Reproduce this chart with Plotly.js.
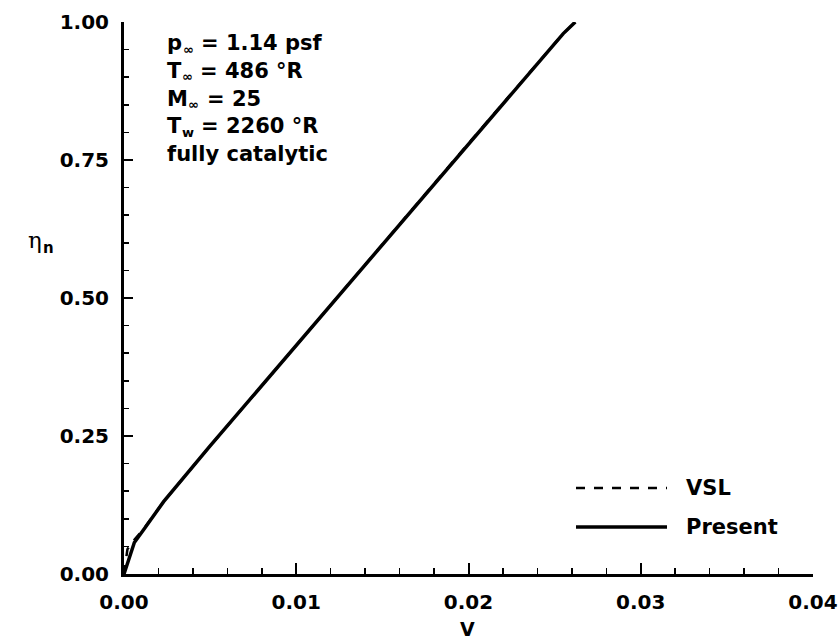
<!DOCTYPE html>
<html>
<head>
<meta charset="utf-8">
<script src="https://cdn.plot.ly/plotly-3.0.1.min.js"></script>
<style>html,body{margin:0;padding:0;background:#fff;}</style>
</head>
<body>
<div id="chart" style="width:838px;height:644px;"></div>
<script>
// Data
const presentV   = [0, 0.0003, 0.0006, 0.0012, 0.0023, 0.005, 0.010, 0.015, 0.020, 0.0255, 0.0262];
const presentEta = [0, 0.030, 0.057, 0.083, 0.131, 0.232, 0.414, 0.597, 0.780, 0.979, 1.000];
const vslV   = [0, 0.0002, 0.0006, 0.0012, 0.0023, 0.005, 0.010, 0.015, 0.020, 0.0255, 0.0262];
const vslEta = [0, 0.045, 0.062, 0.084, 0.131, 0.232, 0.414, 0.597, 0.780, 0.979, 1.000];
const xTickVals = [0, 0.01, 0.02, 0.03, 0.04];
const xTickText = ["0.00", "0.01", "0.02", "0.03", "0.04"];
const yTickVals = [0, 0.25, 0.5, 0.75, 1.0];
const yTickText = ["0.00", "0.25", "0.50", "0.75", "1.00"];
const infoMain = ["p", "T", "M", "T", "fully catalytic"];
const infoSub  = ["∞", "∞", "∞", "w", ""];
const infoRest = ["= 1.14 psf", "= 486 °R", "= 25", "= 2260 °R", ""];
const legendNames = ["VSL", "Present"];
const yTitleMain = "η", yTitleSub = "n";
const xTitle = "V";

const FONT = "DejaVu Sans";
const FONTS = "DejaVu Sans, Arial, sans-serif";
const MAIN_SIZE = 21, SUB_SIZE = 13;

// plot-area geometry (pixels) -> paper coordinates
const L = 124, R = 813, T = 22, B = 574;
const px = x => (x - L) / (R - L);
const py = y => (B - y) / (B - T);

const ctx = document.createElement("canvas").getContext("2d");
function textW(s, size) { ctx.font = "bold " + size + "px '" + FONT + "'"; return ctx.measureText(s).width; }

const traces = [
  {x: vslV, y: vslEta, mode: "lines", name: legendNames[0],
   line: {color: "#000", width: 2.5, dash: "dash"}, showlegend: false},
  {x: presentV, y: presentEta, mode: "lines", name: legendNames[1],
   line: {color: "#000", width: 3.5}, showlegend: false}
];

const annotations = [];
function addText(text, xpx, ypx, size, anchor, family) {
  annotations.push({xref: "paper", yref: "paper", x: px(xpx), y: py(ypx),
    xanchor: anchor || "left", yanchor: "middle", showarrow: false,
    text: text, font: {family: family || FONTS, size: size, color: "#000"}});
}

// info block
const x0 = 165;
infoMain.forEach((m, i) => {
  const yc = 43 + i * 27.8;
  addText("<b>" + m + "</b>", x0, yc, MAIN_SIZE);
  if (infoSub[i]) {
    const xs = x0 + textW(m, MAIN_SIZE) + 0.5;
    addText("<b>" + infoSub[i] + "</b>", xs, yc + 6, SUB_SIZE);
    const xr = xs + textW(infoSub[i], SUB_SIZE) + textW(" ", MAIN_SIZE);
    addText("<b>" + infoRest[i] + "</b>", xr, yc, MAIN_SIZE);
  }
});

// y title (horizontal, eta with subscript n)
addText(yTitleMain, 26, 240, 23, "left", "DejaVu Serif, serif");
addText("<b>" + yTitleSub + "</b>", 41, 248, 15, "left", FONTS);
// x title
addText("<b>" + xTitle + "</b>", 467, 629, 19, "center");

// custom legend
const legY = [488, 527];
const legDash = ["dash", "solid"];
const shapes = [];
legendNames.forEach((n, i) => {
  shapes.push({type: "line", xref: "paper", yref: "paper", x0: px(576), x1: px(667), y0: py(legY[i]), y1: py(legY[i]),
    line: {color: "#000", width: i === 0 ? 2.5 : 3.5, dash: legDash[i]}});
  addText("<b>" + n + "</b>", 684, legY[i], MAIN_SIZE);
});

const bold = arr => arr.map(s => "<b>" + s + "</b>");

const layout = {
  width: 838, height: 644,
  margin: {l: L, r: 838 - R, t: T, b: 644 - B, pad: 0},
  paper_bgcolor: "#fff", plot_bgcolor: "#fff",
  showlegend: false,
  xaxis: {
    range: [0, 0.04], showgrid: false, zeroline: false,
    showline: true, linecolor: "#000", linewidth: 3,
    tickmode: "array", tickvals: xTickVals, ticktext: bold(xTickText),
    ticks: "inside", ticklen: 11, tickwidth: 2, tickcolor: "#000",
    ticklabelstandoff: 8,
    tickfont: {family: FONTS, size: 20, color: "#000"},
    minor: {dtick: 0.002, tick0: 0, ticks: "inside", ticklen: 6, tickwidth: 1.5, tickcolor: "#000", showgrid: false}
  },
  yaxis: {
    range: [0, 1.0], showgrid: false, zeroline: false,
    showline: true, linecolor: "#000", linewidth: 3,
    tickmode: "array", tickvals: yTickVals, ticktext: bold(yTickText),
    ticks: "inside", ticklen: 9, tickwidth: 2, tickcolor: "#000",
    ticklabelstandoff: 8,
    tickfont: {family: FONTS, size: 20, color: "#000"},
    minor: {dtick: 0.05, tick0: 0, ticks: "inside", ticklen: 5, tickwidth: 1.5, tickcolor: "#000", showgrid: false}
  },
  annotations: annotations,
  shapes: shapes
};

Plotly.newPlot("chart", traces, layout, {displayModeBar: false, staticPlot: true});
</script>
</body>
</html>
